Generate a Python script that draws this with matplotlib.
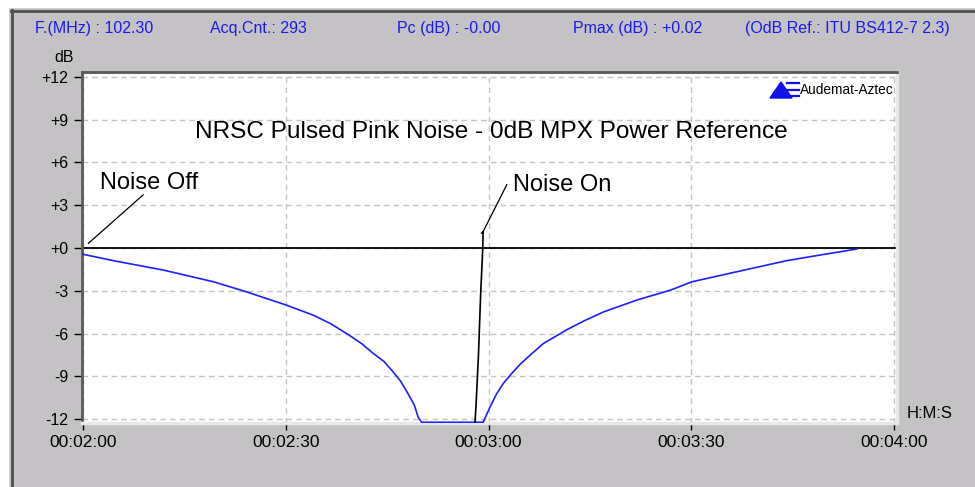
import matplotlib
matplotlib.use('Agg')
import matplotlib.pyplot as plt
from matplotlib.patches import Rectangle, Polygon
from matplotlib.lines import Line2D
from matplotlib.ticker import FixedLocator, FuncFormatter

W, H = 975, 487

# level trace (time in s, level in dB)
t_down = [120.0, 124.5, 131.9, 139.3, 144.2, 150.1, 154.1, 156.6, 159.0, 161.2,
          163.0, 164.5, 165.7, 167.0, 168.1, 169.0, 169.6, 170.1, 179.2]
db_down = [-0.44, -0.89, -1.55, -2.37, -3.08, -4.01, -4.72, -5.3, -6.0, -6.7,
           -7.42, -7.95, -8.59, -9.35, -10.23, -11.0, -11.88, -12.23, -12.23]
t_up = [179.2, 180.2, 181.2, 182.2, 183.4, 184.7, 186.1, 188.1, 191.6, 194.2,
        197.0, 201.9, 206.9, 210.1, 216.7, 224.1, 229.1, 234.5]
db_up = [-12.23, -11.18, -10.23, -9.5, -8.82, -8.15, -7.54, -6.71, -5.73, -5.1,
         -4.49, -3.66, -2.96, -2.37, -1.67, -0.89, -0.49, -0.07]

# noise-on step (black)
t_step = [178.0, 178.15, 178.5, 178.85, 179.15, 179.2, 179.0]
db_step = [-12.23, -11.06, -7.65, -3.08, 0.0, 1.15, 1.05]

y_ticks = [12, 9, 6, 3, 0, -3, -6, -9, -12]
x_ticks = [120, 150, 180, 210, 240]

info = ['F.(MHz) : 102.30', 'Acq.Cnt.: 293', 'Pc (dB) : -0.00',
        'Pmax (dB) : +0.02', '(OdB Ref.: ITU BS412-7 2.3)']
info_x = [35, 210, 397, 573, 745]

plt.rcParams['font.family'] = ['Liberation Sans', 'DejaVu Sans']

fig = plt.figure(figsize=(W / 100, H / 100), dpi=100)
fig.patch.set_facecolor('#c4c2c5')


def fx(x):
    return x / W


def fy(y):
    return 1 - y / H


# window frame
fig.patches.append(Rectangle((0, fy(7)), 1, 7 / H, transform=fig.transFigure,
                             color='white', zorder=0))
fig.patches.append(Rectangle((0, 0), 8 / W, 1, transform=fig.transFigure,
                             color='white', zorder=0))
fig.lines.append(Line2D([fx(11), 1], [fy(10.5), fy(10.5)], transform=fig.transFigure,
                        color='#505050', lw=2))
fig.lines.append(Line2D([fx(11.5), fx(11.5)], [0, fy(10)], transform=fig.transFigure,
                        color='#505050', lw=2))

# plot area
ax = fig.add_axes([fx(82), fy(423), (897 - 82) / W, (423 - 72) / H])
ax.set_facecolor('white')
ax.set_xlim(119.85, 240.44)
ax.set_ylim(-12.28, 12.35)

ax.plot(t_down, db_down, color='#1f1fff', lw=1.2, zorder=3)
ax.plot(t_up, db_up, color='#1f1fff', lw=1.2, zorder=3)
ax.axhline(0, color='black', lw=1.3, zorder=2)
ax.plot(t_step, db_step, color='black', lw=1.2, zorder=4)

ax.yaxis.set_major_locator(FixedLocator(y_ticks))
ax.yaxis.set_major_formatter(FuncFormatter(lambda v, p: '%+d' % v))
ax.xaxis.set_major_locator(FixedLocator(x_ticks))
ax.xaxis.set_major_formatter(FuncFormatter(
    lambda v, p: '00:%02d:%02d' % (int(v) // 60, int(v) % 60)))

ax.grid(True, color='#c4c4c4', ls=(0, (4, 3)), lw=1)
ax.tick_params(axis='y', direction='out', length=6, width=1, pad=4,
               labelsize=11.5, colors='black')
ax.tick_params(axis='x', direction='out', length=5, width=1, pad=3.5,
               labelsize=12.5)

for s in ['left', 'top']:
    ax.spines[s].set_color('#5a5a5a')
    ax.spines[s].set_linewidth(2)
for s in ['right', 'bottom']:
    ax.spines[s].set_color('#e8e8e8')
    ax.spines[s].set_linewidth(2.5)

# annotations
ax.plot([120.8, 128.9], [0.33, 3.73], color='black', lw=0.9)
ax.text(122.5, 4.58, 'Noise Off', fontsize=17, va='center', ha='left')
ax.plot([179.2, 182.7], [1.15, 4.44], color='black', lw=0.9)
ax.text(183.6, 4.44, 'Noise On', fontsize=17, va='center', ha='left')
ax.text(180.4, 8.17, 'NRSC Pulsed Pink Noise - 0dB MPX Power Reference',
        fontsize=17.6, va='center', ha='center')

# logo
ax.add_patch(Polygon([[fx(770), fy(98)], [fx(781), fy(82)], [fx(792), fy(98)]],
                     closed=True, transform=fig.transFigure, color='#1010ee'))
for yy in [83, 89.5, 96]:
    fig.lines.append(Line2D([fx(787), fx(799)], [fy(yy), fy(yy)],
                            transform=fig.transFigure, color='#1010ee', lw=1.6))
fig.text(fx(800), fy(90), 'Audemat-Aztec', fontsize=9.8,
         va='center', ha='left')

# header texts
for s, x in zip(info, info_x):
    fig.text(fx(x), fy(29), s, color='#1a1af0', fontsize=11.5,
             va='center', ha='left')

fig.text(fx(64), fy(58), 'dB', fontsize=11.5, va='center', ha='center')
fig.text(fx(907), fy(413), 'H:M:S', fontsize=12, va='center', ha='left')

fig.savefig('out.png', dpi=100, facecolor=fig.get_facecolor())
